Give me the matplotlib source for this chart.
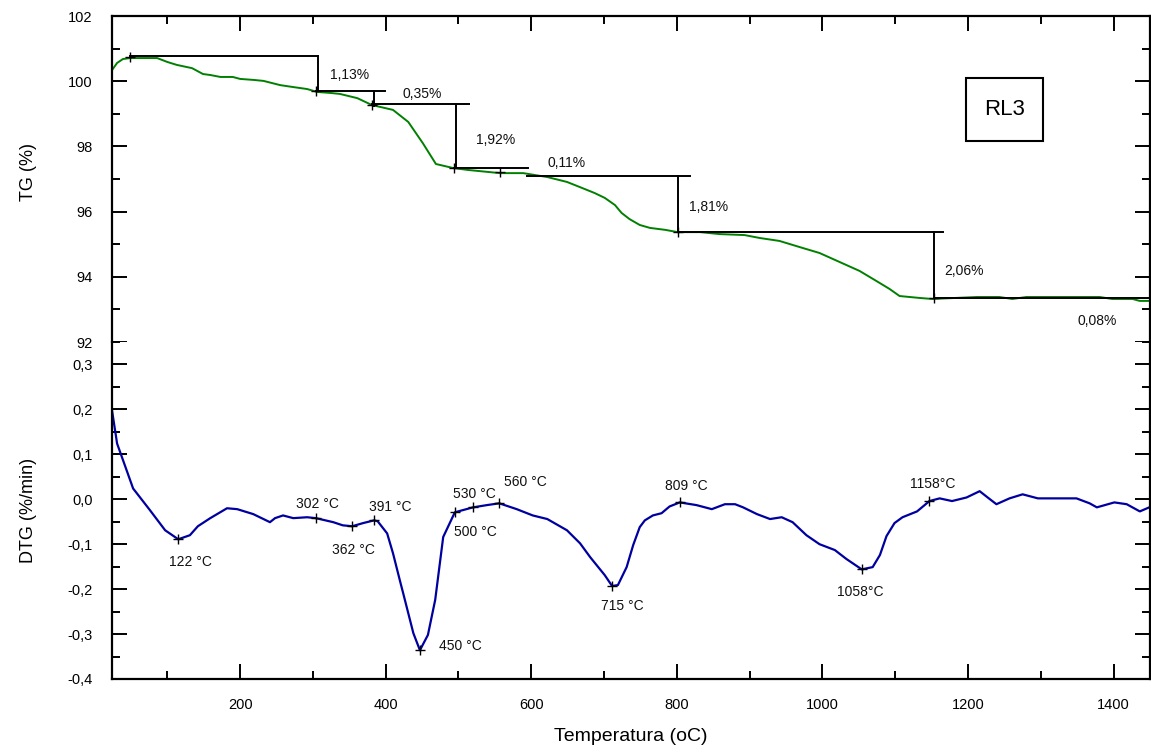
import matplotlib
matplotlib.use("Agg")
import matplotlib.pyplot as plt
from matplotlib.ticker import MultipleLocator, FuncFormatter
from matplotlib.patches import Rectangle

plt.rcParams['font.family'] = ['Liberation Sans', 'DejaVu Sans']

# ---------------- data ----------------
# TG curve (temperature in °C, mass in %)
tg_temp = [24, 31, 39, 49, 86, 100, 113, 134, 149, 159, 173, 190, 200, 218, 232,
           255, 273, 292, 306, 324, 337, 361, 381, 410, 431, 451, 469, 492, 512,
           557, 589, 622, 649, 667, 687, 701, 715, 724, 735, 749, 763, 784, 801,
           832, 859, 893, 914, 941, 969, 996, 1024, 1051, 1072, 1092, 1106, 1134,
           1151, 1212, 1243, 1261, 1280, 1381, 1398, 1426, 1436, 1450]
tg_val = [100.34, 100.56, 100.68, 100.71, 100.71, 100.59, 100.50, 100.40, 100.22,
          100.19, 100.13, 100.13, 100.07, 100.04, 100.01, 99.88, 99.82, 99.76,
          99.67, 99.64, 99.61, 99.48, 99.27, 99.12, 98.75, 98.10, 97.46, 97.34,
          97.28, 97.18, 97.18, 97.06, 96.91, 96.75, 96.57, 96.42, 96.20, 95.96,
          95.77, 95.59, 95.50, 95.44, 95.37, 95.37, 95.31, 95.28, 95.19, 95.10,
          94.91, 94.73, 94.45, 94.18, 93.90, 93.63, 93.41, 93.35, 93.32, 93.38,
          93.38, 93.32, 93.38, 93.38, 93.32, 93.32, 93.26, 93.26]

# DTG curve (temperature in °C, rate in %/min)
dtg_temp = [24, 31, 53, 76, 97, 115, 131, 142, 159, 182, 196, 218, 241, 248, 259,
            273, 292, 304, 328, 341, 354, 369, 384, 389, 402, 410, 420, 424, 438,
            447, 458, 468, 479, 495, 520, 539, 556, 580, 602, 622, 649, 667, 681,
            701, 711, 719, 731, 740, 749, 756, 767, 779, 790, 804, 827, 848, 866,
            880, 891, 910, 928, 944, 959, 978, 996, 1017, 1033, 1054, 1069, 1079,
            1088, 1099, 1110, 1130, 1147, 1161, 1178, 1198, 1216, 1227, 1239, 1257,
            1275, 1296, 1349, 1367, 1377, 1401, 1418, 1436, 1449]
dtg_val = [0.198, 0.124, 0.024, -0.024, -0.069, -0.089, -0.080, -0.060, -0.042,
           -0.020, -0.022, -0.033, -0.051, -0.042, -0.036, -0.042, -0.040, -0.042,
           -0.051, -0.058, -0.060, -0.053, -0.047, -0.049, -0.076, -0.120, -0.184,
           -0.209, -0.298, -0.336, -0.302, -0.224, -0.084, -0.029, -0.018, -0.013,
           -0.009, -0.022, -0.036, -0.044, -0.069, -0.098, -0.129, -0.169, -0.193,
           -0.191, -0.151, -0.102, -0.062, -0.047, -0.036, -0.031, -0.016, -0.007,
           -0.013, -0.022, -0.011, -0.011, -0.018, -0.033, -0.044, -0.040, -0.051,
           -0.080, -0.100, -0.113, -0.133, -0.156, -0.151, -0.124, -0.082, -0.053,
           -0.040, -0.027, -0.004, 0.002, -0.004, 0.004, 0.018, 0.004, -0.011,
           0.002, 0.011, 0.002, 0.002, -0.009, -0.018, -0.007, -0.011, -0.027,
           -0.018]

# TG step markers
tg_mark_temp = [49, 304, 381, 494, 557, 801, 1153]
tg_mark_val = [100.74, 99.70, 99.27, 97.34, 97.21, 95.37, 93.35]

# Step construction lines (horizontal: level, start, end; vertical: temp, top, bottom)
step_h_level = [100.77, 99.71, 99.29, 97.34, 97.09, 95.37, 93.35]
step_h_start = [49, 304, 381, 494, 594, 801, 1153]
step_h_end = [307, 399, 514, 595, 818, 1165, 1450]
step_v_temp = [307, 384, 497, 801, 1153]
step_v_top = [100.77, 99.71, 99.29, 97.09, 95.37]
step_v_bottom = [99.71, 99.25, 97.34, 95.37, 93.35]

# Mass-loss labels
loss_labels = ["1,13%", "0,35%", "1,92%", "0,11%", "1,81%", "2,06%", "0,08%"]
loss_label_temp = [351, 450, 551, 648, 843, 1194, 1378]
loss_label_val = [100.19, 99.61, 98.20, 97.49, 96.14, 94.18, 92.64]

# DTG peak markers and labels
dtg_mark_temp = [115, 304, 354, 384, 447, 495, 520, 556, 711, 804, 1054, 1147]
dtg_mark_val = [-0.089, -0.042, -0.060, -0.047, -0.336, -0.029, -0.018, -0.009,
                -0.193, -0.007, -0.156, -0.004]
dtg_labels = ["122 °C", "302 °C", "362 °C", "391 °C", "450 °C", "500 °C",
              "530 °C", "560 °C", "715 °C", "809 °C", "1058°C", "1158°C"]
# label offsets from the marker, in pixels (dx right, dy down)
dtg_label_offset = [(12, 23), (2, -14), (1, 24), (16, -13), (40, -4), (21, 20),
                    (1, -13), (26, -21), (10, 20), (7, -16), (-1, 23), (3, -17)]

x_major_ticks = [200, 400, 600, 800, 1000, 1200, 1400]

# ---------------- figure ----------------
W, H = 1151, 756
fig = plt.figure(figsize=(W / 100, H / 100), dpi=100)
left = 112 / W
width = (1150 - 112) / W
ax1 = fig.add_axes([left, 1 - 342 / H, width, (342 - 16) / H])
ax2 = fig.add_axes([left, 1 - 679 / H, width, (679 - 342) / H])

green = '#008000'
blue = '#0000a0'

ax1.plot(tg_temp, tg_val, color=green, lw=1.4, zorder=2)
for lvl, x0, x1 in zip(step_h_level, step_h_start, step_h_end):
    ax1.plot([x0, x1], [lvl, lvl], color='black', lw=1.4, zorder=3)
for xv, y0, y1 in zip(step_v_temp, step_v_top, step_v_bottom):
    ax1.plot([xv, xv], [y0, y1], color='black', lw=1.4, zorder=3)
ax1.plot(tg_mark_temp, tg_mark_val, ls='none', marker='+', color='black',
         ms=7, mew=1.0, zorder=4)
for lab, xv, yv in zip(loss_labels, loss_label_temp, loss_label_val):
    ax1.text(xv, yv, lab, fontsize=10, ha='center', va='center', color='#111111')

ax1.add_patch(Rectangle((0.823, 0.617), 0.074, 0.193, transform=ax1.transAxes,
                        fill=False, lw=1.5, edgecolor='black'))
ax1.text(0.860, 0.713, 'RL3', transform=ax1.transAxes, fontsize=16,
         ha='center', va='center')

ax2.plot(dtg_temp, dtg_val, color=blue, lw=1.6, zorder=2)
ax2.plot(dtg_mark_temp, dtg_mark_val, ls='none', marker='+', color='black',
         ms=7, mew=1.0, zorder=4)
for lab, xv, yv, (dx, dy) in zip(dtg_labels, dtg_mark_temp, dtg_mark_val,
                                 dtg_label_offset):
    ax2.annotate(lab, (xv, yv), xytext=(dx, -dy), textcoords='offset pixels',
                 fontsize=10, ha='center', va='center', color='#111111')

for ax in (ax1, ax2):
    ax.set_xlim(24, 1450)
    ax.xaxis.set_major_locator(matplotlib.ticker.FixedLocator(x_major_ticks))
    ax.xaxis.set_minor_locator(MultipleLocator(100))
    ax.tick_params(which='major', direction='in', length=11, width=1.4,
                   labelsize=10.5, pad=14, left=True, right=True)
    ax.tick_params(which='minor', direction='in', length=5.5, width=1.4,
                   left=True, right=True)
    for s in ax.spines.values():
        s.set_linewidth(1.6)

ax1.set_ylim(92, 102)
ax1.yaxis.set_major_locator(MultipleLocator(2))
ax1.yaxis.set_minor_locator(MultipleLocator(1))
ax1.tick_params(axis='x', which='both', top=True, bottom=False, labelbottom=False)
ax1.spines['bottom'].set_visible(False)

ax2.set_ylim(-0.4, 0.35)
ax2.yaxis.set_major_locator(matplotlib.ticker.FixedLocator(
    [-0.4, -0.3, -0.2, -0.1, 0.0, 0.1, 0.2, 0.3]))
ax2.yaxis.set_minor_locator(MultipleLocator(0.05))
ax2.yaxis.set_major_formatter(FuncFormatter(
    lambda v, p: f"{v:.1f}".replace('.', ',').replace('-0,0', '0,0')))
ax2.tick_params(axis='x', which='both', top=False, bottom=True)
ax2.spines['top'].set_visible(False)

ax1.set_ylabel('TG (%)', fontsize=13)
ax1.yaxis.set_label_coords(-0.072, 0.52)
ax2.set_ylabel('DTG (%/min)', fontsize=13)
ax2.yaxis.set_label_coords(-0.072, 0.5)
ax2.set_xlabel('Temperatura (oC)', fontsize=14)
ax2.xaxis.set_label_coords(0.5, -0.145)

fig.savefig('out.png', dpi=100)
